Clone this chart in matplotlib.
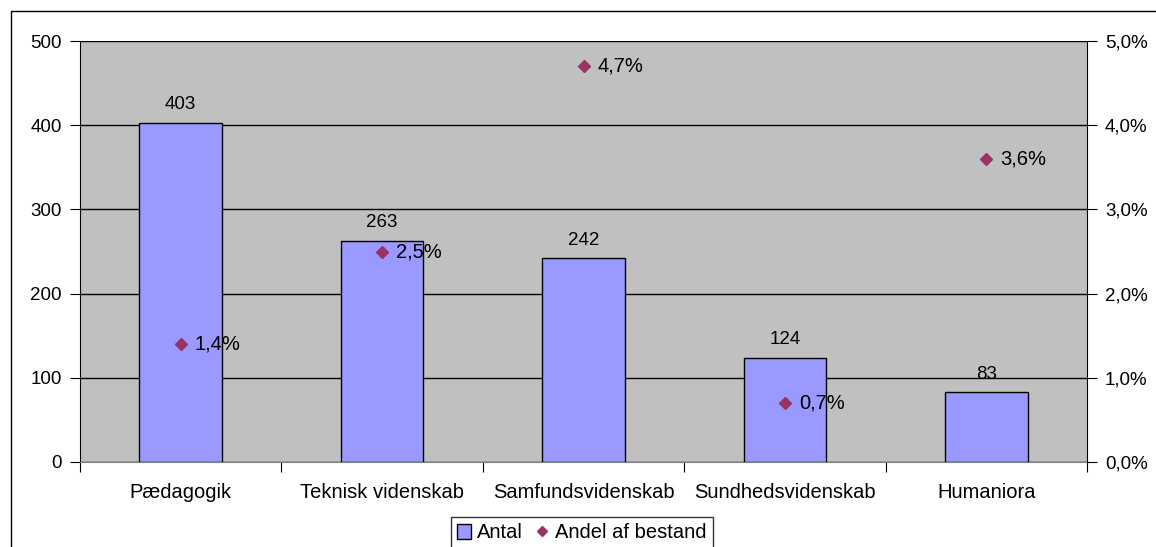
import matplotlib.pyplot as plt
from matplotlib.lines import Line2D
from matplotlib.patches import Patch, Rectangle
import numpy as np

plt.rcParams['font.family'] = ['Liberation Sans', 'DejaVu Sans']

categories = ['Pædagogik', 'Teknisk videnskab', 'Samfundsvidenskab',
              'Sundhedsvidenskab', 'Humaniora']
antal = [403, 263, 242, 124, 83]
andel = [1.4, 2.5, 4.7, 0.7, 3.6]

fs = 13.5
fs_big = 14.5

fig = plt.figure(figsize=(11.56, 5.47), dpi=100)
fig.patches.append(Rectangle((11 / 1156, -0.1), 1.2, 1 - 11 / 547 + 0.1,
                             transform=fig.transFigure, fill=False,
                             edgecolor='black', linewidth=1))
ax = fig.add_axes([80 / 1156, 1 - 462 / 547, 1007 / 1156, 421 / 547])
ax.set_facecolor('#C0C0C0')

x = np.arange(len(categories))
ax.bar(x, antal, width=0.41, color='#9999FF', edgecolor='black',
       linewidth=1, zorder=3)
for xi, v in zip(x, antal):
    ax.text(xi, v + 11, str(v), ha='center', va='bottom', fontsize=fs, zorder=5)

ax.set_xlim(-0.5, len(categories) - 0.5)
ax.set_ylim(0, 500)
ax.set_yticks(np.arange(0, 501, 100))
ax.yaxis.grid(True, color='black', linewidth=1, zorder=1)
ax.set_axisbelow(True)
ax.set_xticks(np.arange(-0.5, len(categories), 1))
ax.set_xticklabels([])
ax.set_xticks(x, minor=True)
ax.set_xticklabels(categories, minor=True, fontsize=fs_big)
ax.tick_params(axis='x', which='minor', length=0, pad=15)
ax.tick_params(axis='x', which='major', length=7, direction='out')
ax.tick_params(axis='y', length=7, direction='out', labelsize=fs, pad=6)
for s in ['top', 'right']:
    ax.spines[s].set_visible(False)
ax.spines['left'].set_color('black')
ax.spines['bottom'].set_color('#808080')

ax2 = ax.twinx()
ax2.set_ylim(0, 5)
ax2.set_yticks(np.arange(0, 5.01, 1))
ax2.set_yticklabels([('%.1f%%' % v).replace('.', ',') for v in np.arange(0, 5.01, 1)])
ax2.tick_params(axis='y', length=7, direction='out', labelsize=fs, pad=6)
for s in ['top', 'left', 'bottom']:
    ax2.spines[s].set_visible(False)
ax2.spines['right'].set_color('black')
ax2.plot(x, andel, linestyle='none', marker='D', markersize=6,
         color='#993366', zorder=4)
for xi, v in zip(x, andel):
    ax2.text(xi + 0.07, v, ('%.1f%%' % v).replace('.', ','), ha='left',
             va='center', fontsize=fs_big, zorder=5)

handles = [Patch(facecolor='#9999FF', edgecolor='black', label='Antal'),
           Line2D([], [], linestyle='none', marker='D', markersize=5,
                  color='#993366', label='Andel af bestand')]
leg = fig.legend(handles=handles, loc='center', bbox_to_anchor=(582 / 1156, 1 - 533 / 547),
                 ncol=2, frameon=True, fancybox=False, edgecolor='black',
                 fontsize=fs_big, handlelength=0.7, handletextpad=0.3,
                 columnspacing=0.6, borderpad=0.3)
leg.get_frame().set_linewidth(1)

fig.savefig('out.png', dpi=100)
